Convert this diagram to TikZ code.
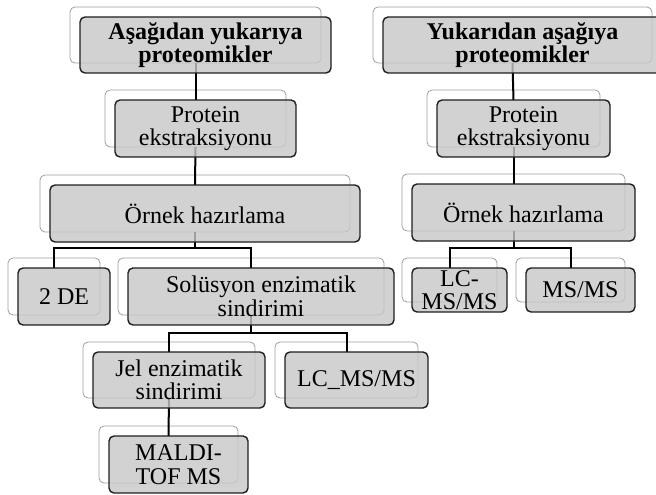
\documentclass[tikz,border=0pt]{standalone}
\usepackage{fontspec}
\setmainfont{Liberation Serif}
\begin{document}
\begin{tikzpicture}[x=1pt,y=-1pt,
  back/.style={draw=black!38, line width=0.8pt, fill=white, rounded corners=5pt, inner sep=0pt, outer sep=0pt},
  front/.style={draw=black!88, line width=1.4pt, fill=black!22, fill opacity=0.8, text opacity=1, rounded corners=5pt, inner sep=0pt, outer sep=0pt, align=center, font=\fontsize{24}{23.5}\selectfont},
  bfront/.style={front, font=\fontsize{24}{23.5}\selectfont\bfseries},
  conn/.style={draw=black, line width=2pt}]
\useasboundingbox (0,0) rectangle (656,495);
% back rectangles
\node[back, minimum width=251, minimum height=56] (b1) at (195.5,35) {};
\node[back, minimum width=181, minimum height=57] (b2) at (195.5,118.5) {};
\node[back, minimum width=310, minimum height=57] (b3) at (195,203.5) {};
\node[back, minimum width=92, minimum height=57] (b4) at (54,286.5) {};
\node[back, minimum width=266, minimum height=57] (b5) at (251,286.5) {};
\node[back, minimum width=172, minimum height=56] (b6) at (169,370) {};
\node[back, minimum width=143, minimum height=56] (b7) at (346.5,370) {};
\node[back, minimum width=139, minimum height=57] (b8) at (168.5,454.5) {};
\node[back, minimum width=279, minimum height=56] (b9) at (512.5,35) {};
\node[back, minimum width=173, minimum height=57] (b10) at (513.5,118.5) {};
\node[back, minimum width=223, minimum height=57] (b11) at (513.5,202.5) {};
\node[back, minimum width=95, minimum height=44] (b12) at (449.5,280) {};
\node[back, minimum width=109, minimum height=44] (b13) at (570.5,280) {};
% junction points
\coordinate (j3) at (195,248);
\coordinate (j5) at (251,333);
\coordinate (j11) at (513.5,248);
% connectors
\draw[conn] (b1.south) -- ([yshift=-10]b2.north);
\draw[conn] (b2.south) -- ([yshift=-10]b3.north);
\draw[conn] (b3.south) -- (j3);
\draw[conn] (j3) -| ([yshift=-10]b4.north);
\draw[conn] (j3) -| ([yshift=-10]b5.north);
\draw[conn] (b5.south) -- (j5);
\draw[conn] (j5) -| ([yshift=-10]b6.north);
\draw[conn] (j5) -| ([yshift=-10]b7.north);
\draw[conn] (b6.south) -- ([yshift=-10]b8.north);
\draw[conn] (b9.south) -- ([yshift=-10]b10.north);
\draw[conn] (b10.south) -- ([yshift=-10]b11.north);
\draw[conn] (b11.south) -- (j11);
\draw[conn] (j11) -| ([yshift=-10]b12.north);
\draw[conn] (j11) -| ([yshift=-10]b13.north);
% front rectangles
\node[bfront, minimum width=251, minimum height=56] (f1) at ([shift={(10,10)}]b1.center) {Aşağıdan yukarıya\\proteomikler};
\node[front, minimum width=181, minimum height=57] (f2) at ([shift={(10,10)}]b2.center) {Protein\\ekstraksiyonu};
\node[front, minimum width=310, minimum height=57] (f3) at ([shift={(10,10)}]b3.center) {Örnek hazırlama};
\node[front, minimum width=92, minimum height=57] (f4) at ([shift={(10,10)}]b4.center) {2 DE};
\node[front, minimum width=266, minimum height=57] (f5) at ([shift={(10,10)}]b5.center) {Solüsyon enzimatik\\sindirimi};
\node[front, minimum width=172, minimum height=56] (f6) at ([shift={(10,10)}]b6.center) {Jel enzimatik\\sindirimi};
\node[front, minimum width=143, minimum height=56] (f7) at ([shift={(10,10)}]b7.center) {LC\_MS/MS};
\node[front, minimum width=139, minimum height=57] (f8) at ([shift={(10,10)}]b8.center) {MALDI-\\TOF MS};
\node[bfront, minimum width=279, minimum height=56] (f9) at ([shift={(10,10)}]b9.center) {Yukarıdan aşağıya\\proteomikler};
\node[front, minimum width=173, minimum height=57] (f10) at ([shift={(10,10)}]b10.center) {Protein\\ekstraksiyonu};
\node[front, minimum width=223, minimum height=57] (f11) at ([shift={(10,10)}]b11.center) {Örnek hazırlama};
\node[front, minimum width=95, minimum height=44] (f12) at ([shift={(10,10)}]b12.center) {LC-\\MS/MS};
\node[front, minimum width=109, minimum height=44] (f13) at ([shift={(10,10)}]b13.center) {MS/MS};
\end{tikzpicture}
\end{document}
